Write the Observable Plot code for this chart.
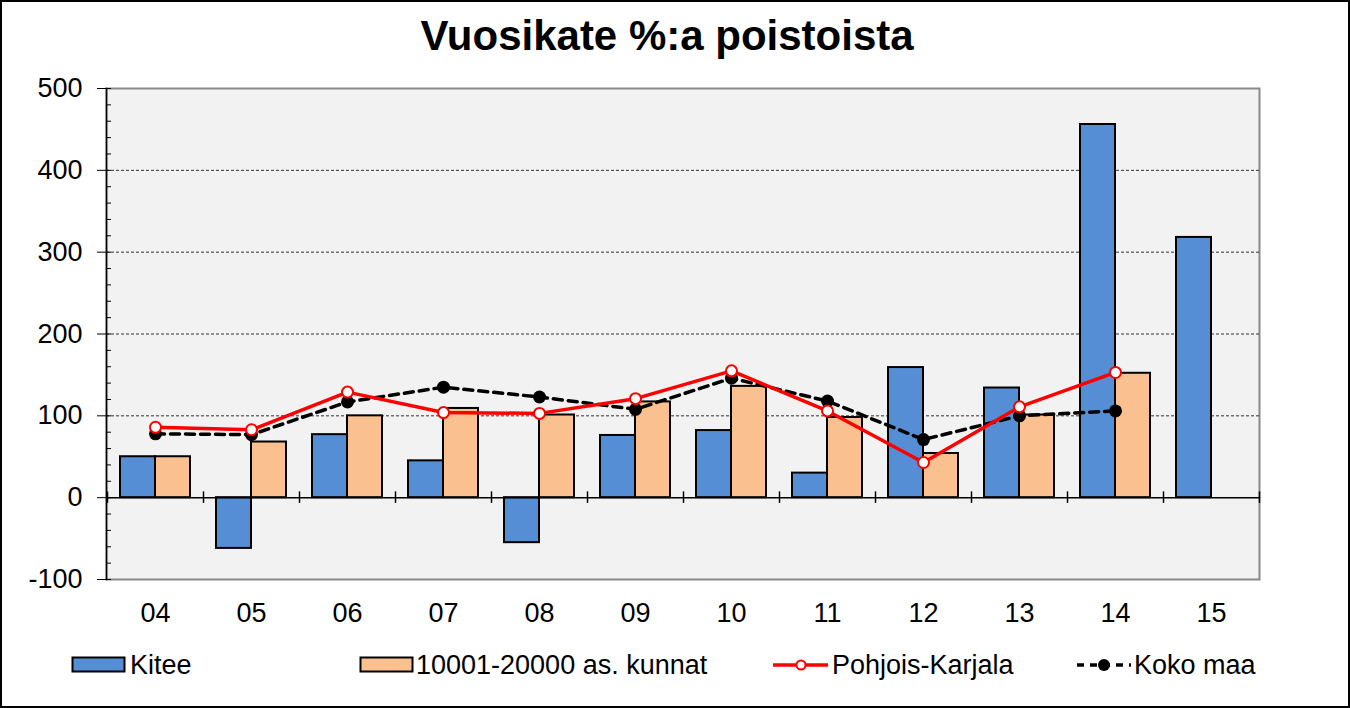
<!DOCTYPE html>
<html>
<head>
<meta charset="utf-8">
<script src="https://cdn.jsdelivr.net/npm/d3@7"></script>
<script src="https://cdn.jsdelivr.net/npm/@observablehq/plot@0.6"></script>
<style>
  html, body { margin: 0; padding: 0; background: #fff; }
  #chart { position: relative; width: 1350px; height: 708px; box-sizing: border-box; border: 2px solid #000; background: #fff; font-family: "Liberation Sans", Arial, sans-serif; overflow: hidden; }
  #title { position: absolute; top: 10px; left: 0; width: 1330px; text-align: center; font-weight: bold; font-size: 42px; color: #000; white-space: nowrap; }
  #plot { position: absolute; left: -2px; top: 68px; width: 1352px; }
  #plot svg { max-width: none !important; display: block; }
  .leg { position: absolute; top: 649px; font-size: 27px; color: #000; line-height: 28px; white-space: nowrap; }
</style>
</head>
<body>
<div id="chart">
  <div id="title">Vuosikate %:a poistoista</div>
  <div id="plot"></div>
  <div id="legend"></div>
</div>
<script>
const years = ["04","05","06","07","08","09","10","11","12","13","14","15"];
const kitee = [50, -62, 77, 45, -55, 76, 82, 30, 159, 134, 456, 318];
const kunnat = [50, 68, 100, 109, 101, 117, 136, 98, 54, 101, 152, null];
const pohjoisKarjala = [86, 83, 129, 104, 103, 121, 155, 106, 43, 111, 153, null];
const kokoMaa = [78, 77, 117, 135, 123, 108, 146, 118, 71, 100, 106, null];
const yTicks = [-100, 0, 100, 200, 300, 400, 500];
const gridValues = [100, 200, 300, 400];

const seriesNames = ["Kitee", "10001-20000 as. kunnat", "Pohjois-Karjala", "Koko maa"];
const colors = {"Kitee": "#558ed5", "10001-20000 as. kunnat": "#fac090", "Pohjois-Karjala": "#ff0000", "Koko maa": "#000000"};

const kiteeData = years.map((y, i) => ({year: y, value: kitee[i]}));
const kunnatData = years.map((y, i) => ({year: y, value: kunnat[i]})).filter(d => d.value != null);
const pkData = years.map((y, i) => ({year: y, value: pohjoisKarjala[i]})).filter(d => d.value != null);
const kmData = years.map((y, i) => ({year: y, value: kokoMaa[i]})).filter(d => d.value != null);

const plot = Plot.plot({
  width: 1352,
  height: 570,
  marginLeft: 106,
  marginRight: 93,
  marginTop: 18,
  marginBottom: 61,
  style: {fontFamily: "'Liberation Sans', Arial, sans-serif", fontSize: "27px", color: "#000", background: "transparent", overflow: "visible", maxWidth: "none"},
  x: {domain: years, padding: 0, label: null},
  y: {domain: [-100, 500], label: null},
  marks: [
    Plot.frame({fill: "#f2f2f2", stroke: "#898989", strokeWidth: 2}),
    Plot.ruleY(gridValues, {stroke: "#000", strokeWidth: 0.8, strokeDasharray: "3,2"}),
    Plot.barY(kiteeData, {x: "year", y: "value", fill: colors["Kitee"], stroke: "#000", strokeWidth: 2, insetLeft: 13, insetRight: 48}),
    Plot.barY(kunnatData, {x: "year", y: "value", fill: colors["10001-20000 as. kunnat"], stroke: "#000", strokeWidth: 2, insetLeft: 48, insetRight: 13}),
    Plot.ruleY([0], {stroke: "#000", strokeWidth: 1.5}),
    Plot.ruleX(years, {x: d => d, y1: -7, y2: 7, dx: -48, stroke: "#000", strokeWidth: 1.5}),
    Plot.ruleX(years.slice(-1), {x: d => d, y1: -7, y2: 7, dx: 48, stroke: "#000", strokeWidth: 1.5}),
    Plot.line(kmData, {x: "year", y: "value", stroke: "#000", strokeWidth: 3.5, strokeDasharray: "9,6"}),
    Plot.dot(kmData, {x: "year", y: "value", fill: "#000", r: 6.5}),
    Plot.line(pkData, {x: "year", y: "value", stroke: "#ff0000", strokeWidth: 3.5}),
    Plot.dot(pkData, {x: "year", y: "value", fill: "#fff", stroke: "#ff0000", strokeWidth: 2, r: 5.5}),
    Plot.frame({anchor: "left", stroke: "#000", strokeWidth: 1.5}),
    Plot.axisY({ticks: d3.range(-100, 501, 20), tickSize: -5, text: null, stroke: "#000"}),
    Plot.axisY({ticks: yTicks, tickSize: 9, tickPadding: 15, tickFormat: d => String(d), fontSize: 27, stroke: "#000"}),
    Plot.axisX({tickSize: 0, tickPadding: 23, fontSize: 27})
  ]
});
document.getElementById("plot").appendChild(plot);

// Legend
const legendPos = [
  {name: seriesNames[0], sx: 69, tx: 128, type: "bar"},
  {name: seriesNames[1], sx: 357, tx: 414, type: "bar"},
  {name: seriesNames[2], sx: 771, tx: 830, type: "line"},
  {name: seriesNames[3], sx: 1073, tx: 1132, type: "dash"}
];
const legend = document.getElementById("legend");
for (const l of legendPos) {
  const sw = document.createElementNS("http://www.w3.org/2000/svg", "svg");
  sw.setAttribute("width", 58);
  sw.setAttribute("height", 24);
  sw.style.position = "absolute";
  sw.style.left = l.sx + "px";
  sw.style.top = "651px";
  if (l.type === "bar") {
    sw.innerHTML = `<rect x="1.5" y="4.5" width="52" height="14" fill="${colors[l.name]}" stroke="#000" stroke-width="2"/>`;
  } else if (l.type === "line") {
    sw.innerHTML = `<line x1="0" x2="55" y1="12" y2="12" stroke="#ff0000" stroke-width="3.5"/><circle cx="28" cy="12" r="4.5" fill="#fff" stroke="#ff0000" stroke-width="2"/>`;
  } else {
    sw.innerHTML = `<line x1="2" x2="56" y1="12" y2="12" stroke="#000" stroke-width="3.5" stroke-dasharray="7,6"/><circle cx="29" cy="12" r="6" fill="#000"/>`;
  }
  legend.appendChild(sw);
  const t = document.createElement("div");
  t.className = "leg";
  t.style.left = l.tx + "px";
  t.textContent = l.name;
  legend.appendChild(t);
}
</script>
</body>
</html>
